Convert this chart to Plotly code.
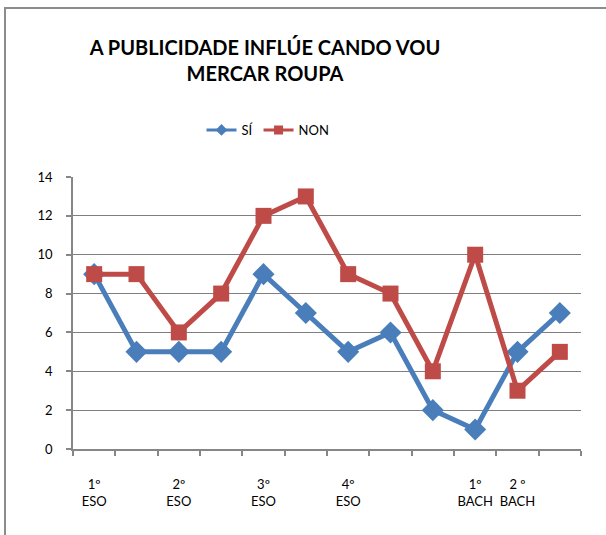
import plotly.graph_objects as go

categories = ["1º<br>ESO", "", "2º<br>ESO", "", "3º<br>ESO", "", "4º<br>ESO", "", "", "1º<br>BACH", "2 º<br>BACH", ""]
si_values = [9, 5, 5, 5, 9, 7, 5, 6, 2, 1, 5, 7]
non_values = [9, 9, 6, 8, 12, 13, 9, 8, 4, 10, 3, 5]
y_ticks = [0, 2, 4, 6, 8, 10, 12, 14]

idx = list(range(len(categories)))
W, H = 606, 535
L, R, T, B = 73, 25, 177, 86
pw, ph = W - L - R, H - T - B
BLUE, RED = "#4A7EBB", "#BE4B48"

def px(x):
    return (x - L) / pw

def py(y):
    return (H - B - y) / ph

fig = go.Figure()
fig.add_trace(go.Scatter(x=idx, y=si_values, name="SÍ", mode="lines+markers", showlegend=False,
                         line=dict(color=BLUE, width=5),
                         marker=dict(symbol="diamond", size=17, color=BLUE)))
fig.add_trace(go.Scatter(x=idx, y=non_values, name="NON", mode="lines+markers", showlegend=False,
                         line=dict(color=RED, width=5),
                         marker=dict(symbol="square", size=16, color=RED)))
# legend entries with small symbols
fig.add_trace(go.Scatter(x=[None], y=[None], name="SÍ", mode="lines+markers",
                         line=dict(color=BLUE, width=3),
                         marker=dict(symbol="diamond", size=9, color=BLUE)))
fig.add_trace(go.Scatter(x=[None], y=[None], name="NON", mode="lines+markers",
                         line=dict(color=RED, width=3),
                         marker=dict(symbol="square", size=9, color=RED)))

label_vals = [i for i, c in enumerate(categories) if c]
label_text = [c for c in categories if c]

fig.update_layout(
    width=W, height=H,
    margin=dict(l=L, r=R, t=T, b=B),
    paper_bgcolor="white", plot_bgcolor="white",
    font=dict(family="Lato, Liberation Sans, sans-serif", size=13, color="black"),
    title=dict(text="<b>A PUBLICIDADE INFLÚE CANDO VOU<br>MERCAR ROUPA</b>",
               x=265 / W, xanchor="center", y=1 - 55 / H, yanchor="top",
               font=dict(size=20, color="black")),
    showlegend=True,
    legend=dict(orientation="h", x=px(268), xanchor="center", y=py(130), yanchor="middle",
                font=dict(size=13), bgcolor="rgba(0,0,0,0)"),
    xaxis=dict(range=[-0.5, len(categories) - 0.5], tickmode="array",
               tickvals=label_vals, ticktext=label_text, ticks="",
               showgrid=False, zeroline=False, showline=True, linecolor="#868686", linewidth=1.5,
               ticklabelstandoff=23,
               minor=dict(tickmode="array", tickvals=[i - 0.5 for i in range(len(categories) + 1)],
                          ticks="outside", ticklen=5, tickcolor="#868686", tickwidth=1.5, showgrid=False),
               tickfont=dict(size=13), fixedrange=True),
    yaxis=dict(range=[0, 14], tickmode="array", tickvals=y_ticks, ticks="outside", ticklen=5,
               tickcolor="#868686", tickwidth=1.5, showgrid=True, gridcolor="#7F7F7F", gridwidth=1.2,
               zeroline=False, showline=True, linecolor="#868686", linewidth=1.5,
               ticklabelstandoff=11, tickfont=dict(size=13), fixedrange=True),
    shapes=[dict(type="rect", xref="paper", yref="paper",
                 x0=px(5), x1=px(620), y0=py(560), y1=py(8),
                 line=dict(color="#8C8C8C", width=2), fillcolor="rgba(0,0,0,0)", layer="below")],
)

fig.write_html("out.html", config={"displayModeBar": False},
               post_script="document.body.style.margin='0';document.body.style.overflow='hidden';")
